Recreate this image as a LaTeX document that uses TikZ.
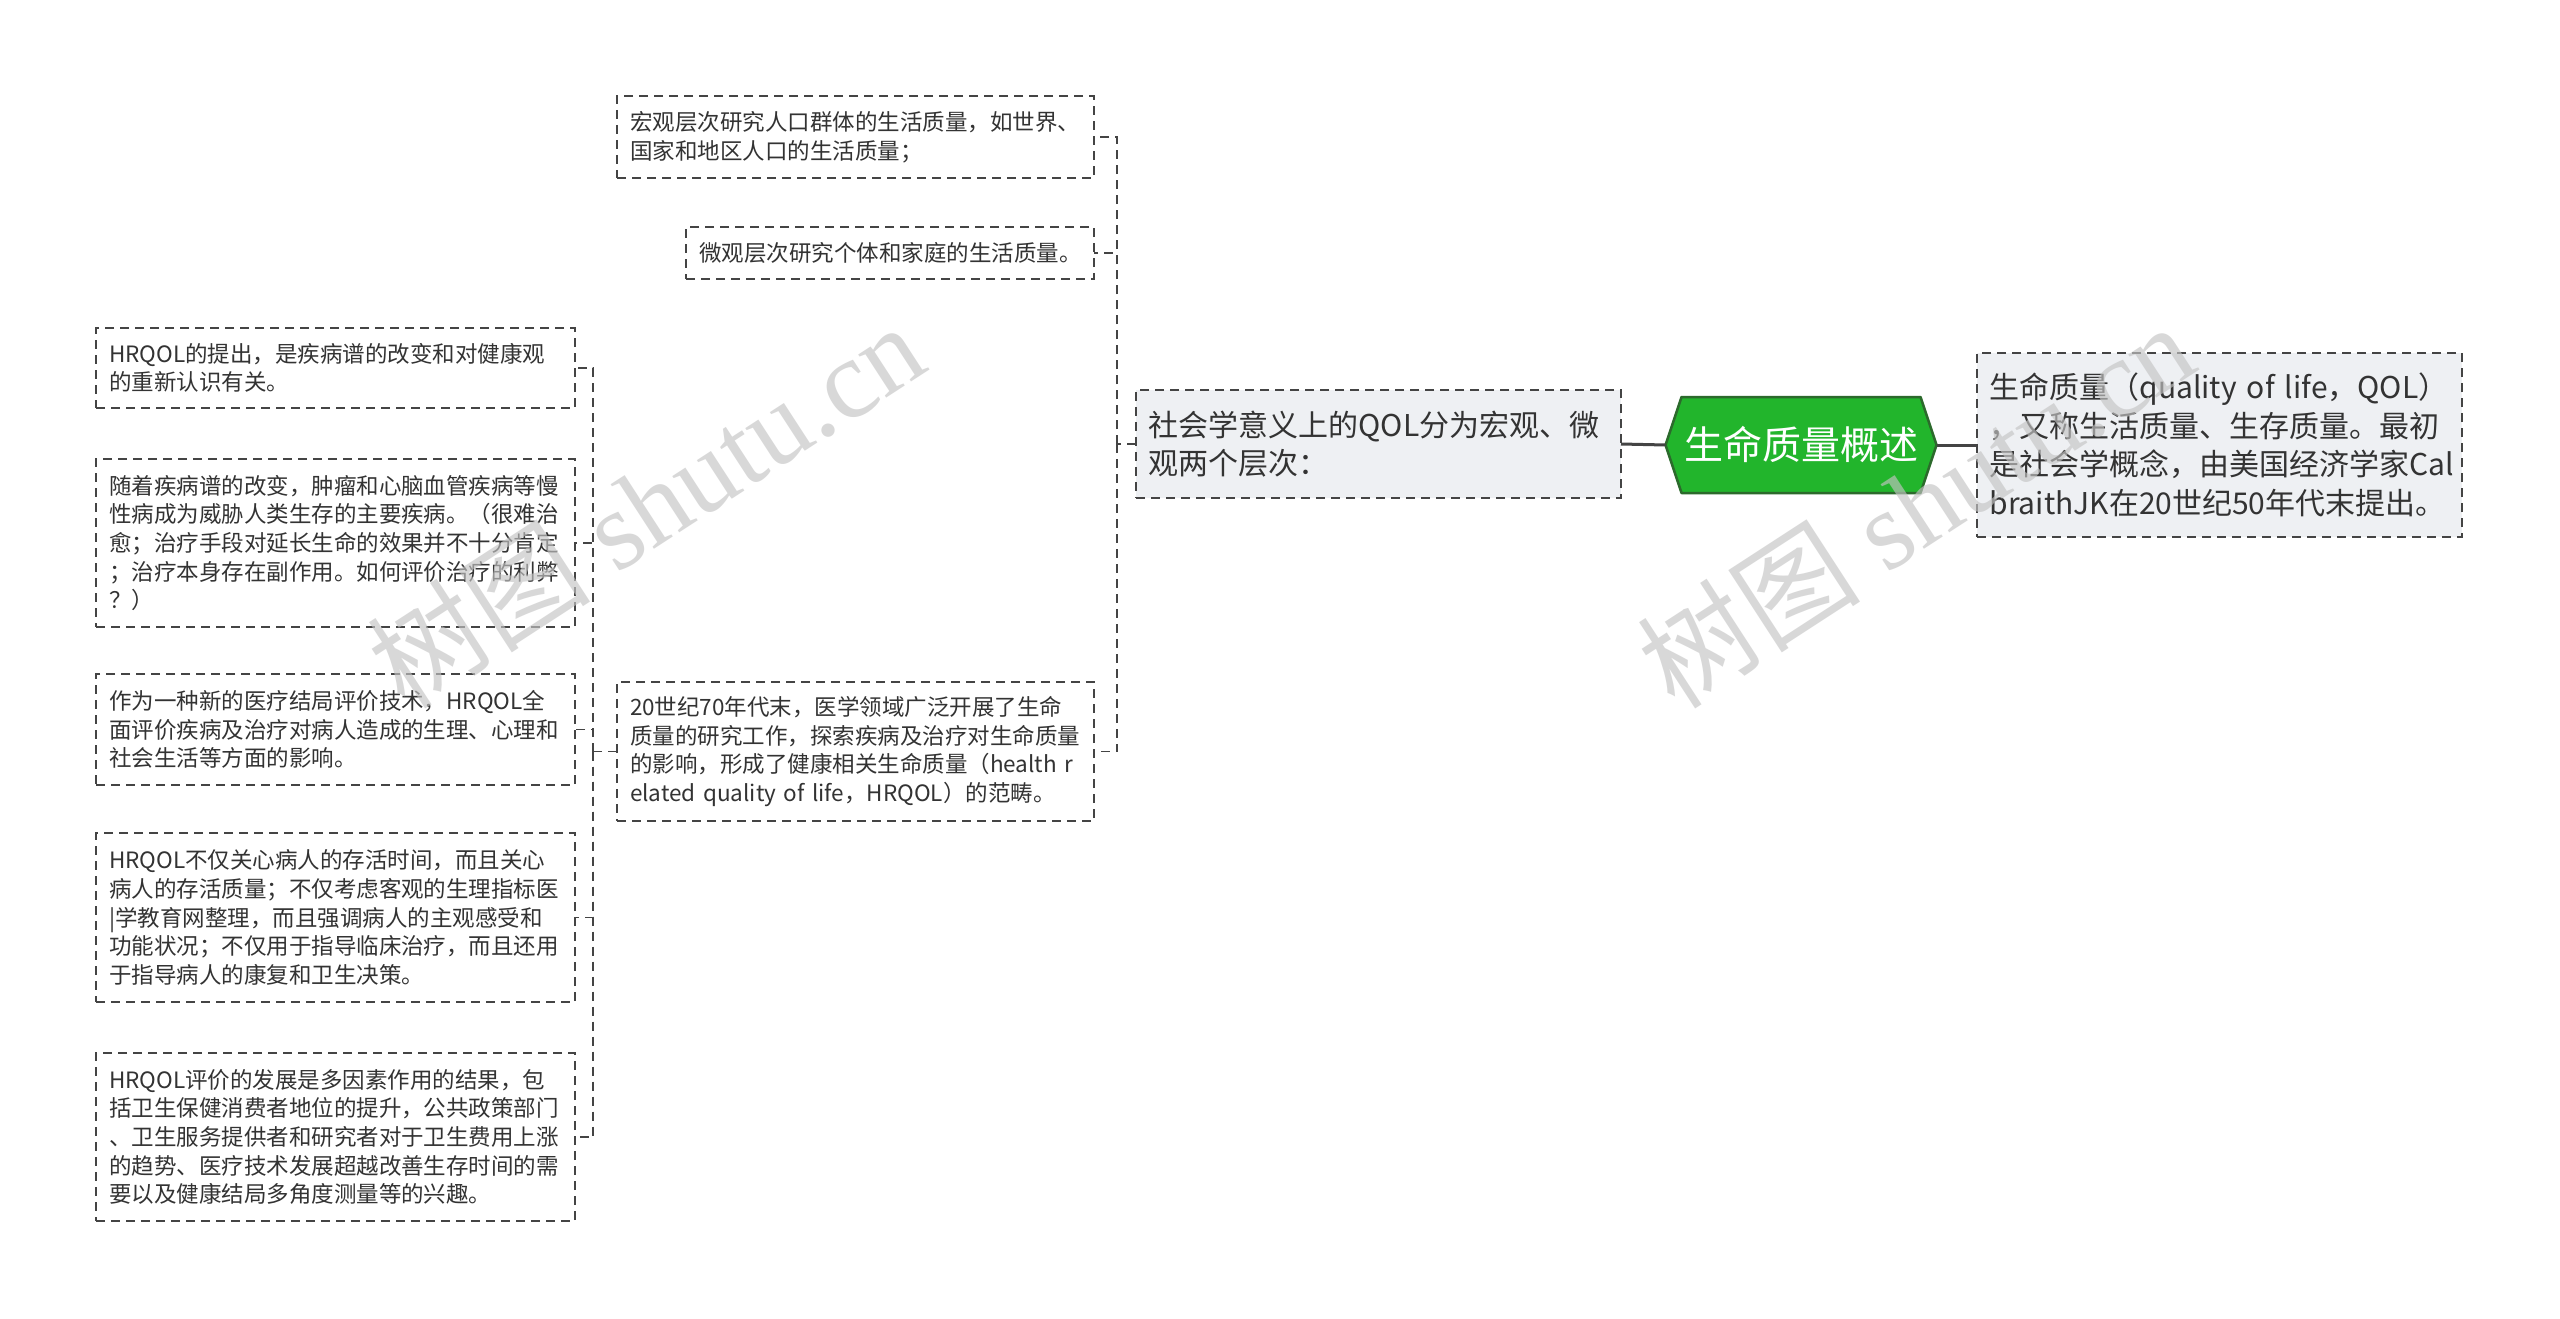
\documentclass[tikz,border=0pt]{standalone}
\usepackage{fontspec}
\setmainfont{Noto Sans CJK SC}
\newfontfamily\wmserif{Liberation Serif}
\usetikzlibrary{backgrounds}
\definecolor{txt}{HTML}{333333}
\definecolor{boxfill}{HTML}{EEF0F3}
\definecolor{rootfill}{HTML}{22B52C}
\definecolor{rootline}{HTML}{2C6A2C}
\definecolor{lineclr}{HTML}{444444}
\definecolor{wmclr}{HTML}{C4C4C4}
\begin{document}
\begin{tikzpicture}[x=1pt,y=-1pt,
  every node/.style={outer sep=0pt},
  dashbox/.style={draw=lineclr, line width=1.5pt, dash pattern=on 9pt off 6pt, text=txt, align=left, inner ysep=0pt},
  leaf/.style={dashbox, fill=white, inner xsep=13pt, font=\fontsize{22.5}{28.6}\selectfont},
  big/.style={dashbox, fill=boxfill, inner xsep=12.5pt, font=\fontsize{30}{38.7}\selectfont},
  conn/.style={draw=lineclr, line width=1.5pt, dash pattern=on 9pt off 6pt},
  rootconn/.style={draw=lineclr, line width=3pt},
  wmark/.style={text=wmclr, opacity=0.65, rotate=33, anchor=base, inner sep=0pt, font=\fontsize{112}{112}\selectfont}
]
\useasboundingbox (0,0) rectangle (2560,1319);

% root
\node[text=white, font=\fontsize{39}{44}\selectfont, minimum width=271pt, minimum height=96pt, inner sep=0pt] (root) at (1801,445) {生命质量概述};
\begin{scope}[on background layer]
  \fill[white] (0,0) rectangle (2560,1319);
  \draw[fill=rootfill, draw=rootline, line width=2.5pt, line join=round]
    ([xshift=16pt]root.north west) -- ([xshift=-16pt]root.north east) -- (root.east)
    -- ([xshift=-16pt]root.south east) -- ([xshift=16pt]root.south west) -- (root.west) -- cycle;
\end{scope}

% right box
\node[big, text width=460pt, minimum height=184pt] (R) at (2219.5,445)
  {生命质量（quality~of~life，QOL）\\，又称生活质量、生存质量。最初\\是社会学概念，由美国经济学家Cal\\braithJK在20世纪50年代末提出。};

% middle box
\node[big, text width=460pt, minimum height=108pt] (M) at (1378.5,444)
  {社会学意义上的QOL分为宏观、微\\观两个层次：};

% children of M
\node[leaf, text width=451pt, minimum height=82pt] (a) at (855.5,137)
  {宏观层次研究人口群体的生活质量，如世界、\\国家和地区人口的生活质量；};
\node[leaf, text width=382pt, minimum height=52pt] (b) at (890,253)
  {微观层次研究个体和家庭的生活质量。};
\node[leaf, text width=451pt, minimum height=139pt] (c) at (855.5,751.5)
  {20世纪70年代末，医学领域广泛开展了生命\\质量的研究工作，探索疾病及治疗对生命质量\\的影响，形成了健康相关生命质量（health~r\\elated~quality~of~life，HRQOL）的范畴。};

% children of c
\node[leaf, text width=453pt, minimum height=80pt] (d) at (335.5,368)
  {HRQOL的提出，是疾病谱的改变和对健康观\\的重新认识有关。};
\node[leaf, text width=453pt, minimum height=168pt] (e) at (335.5,543)
  {随着疾病谱的改变，肿瘤和心脑血管疾病等慢\\性病成为威胁人类生存的主要疾病。（很难治\\愈；治疗手段对延长生命的效果并不十分肯定\\；治疗本身存在副作用。如何评价治疗的利弊\\？）};
\node[leaf, text width=453pt, minimum height=111pt] (f) at (335.5,729.5)
  {作为一种新的医疗结局评价技术，HRQOL全\\面评价疾病及治疗对病人造成的生理、心理和\\社会生活等方面的影响。};
\node[leaf, text width=453pt, minimum height=169pt] (g) at (335.5,917.5)
  {HRQOL不仅关心病人的存活时间，而且关心\\病人的存活质量；不仅考虑客观的生理指标医\\|学教育网整理，而且强调病人的主观感受和\\功能状况；不仅用于指导临床治疗，而且还用\\于指导病人的康复和卫生决策。};
\node[leaf, text width=453pt, minimum height=168pt] (h) at (335.5,1137)
  {HRQOL评价的发展是多因素作用的结果，包\\括卫生保健消费者地位的提升，公共政策部门\\、卫生服务提供者和研究者对于卫生费用上涨\\的趋势、医疗技术发展超越改善生存时间的需\\要以及健康结局多角度测量等的兴趣。};

% connectors
\draw[rootconn] (root.east) -- (R.west);
\draw[rootconn] (M.east) -- (root.west);

\draw[conn] (M.west) -- ++(-19,0) coordinate (tM);
\foreach \ch in {a,b,c} \draw[conn] (tM) |- (\ch.east);

\draw[conn] (c.west) -- ++(-24,0) coordinate (tc);
\foreach \ch in {d,e,f,g,h} \draw[conn] (tc) |- (\ch.east);

% watermarks
\node[wmark] (wm1a) at (499,650) {树图};
\node[wmark] (wm1b) at (774,472) {\wmserif shutu.cn};
\node[wmark] (wm2a) at (1769,650) {树图};
\node[wmark] (wm2b) at (2044,472) {\wmserif shutu.cn};
\end{tikzpicture}
\end{document}
